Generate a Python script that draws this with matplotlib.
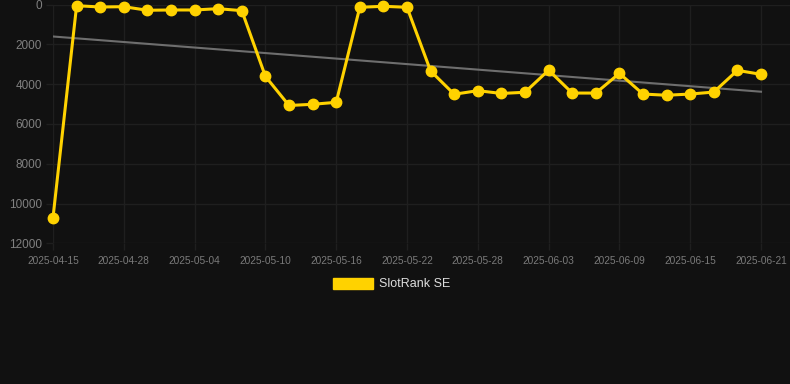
import matplotlib
matplotlib.use("Agg")
import matplotlib.pyplot as plt
from matplotlib.patches import Patch
import numpy as np

plt.rcParams['font.family'] = ['Liberation Sans', 'DejaVu Sans']

dates = ['2025-04-15', '2025-04-24', '2025-04-26', '2025-04-28', '2025-04-30',
         '2025-05-02', '2025-05-04', '2025-05-06', '2025-05-08', '2025-05-10',
         '2025-05-12', '2025-05-14', '2025-05-16', '2025-05-18', '2025-05-20',
         '2025-05-22', '2025-05-24', '2025-05-26', '2025-05-28', '2025-05-30',
         '2025-06-01', '2025-06-03', '2025-06-05', '2025-06-07', '2025-06-09',
         '2025-06-11', '2025-06-13', '2025-06-15', '2025-06-17', '2025-06-19',
         '2025-06-21']
ranks = [10710, 60, 125, 110, 290, 275, 275, 210, 310, 3610,
         5075, 5015, 4915, 140, 90, 140, 3340, 4510, 4330, 4470,
         4410, 3300, 4450, 4450, 3460, 4500, 4560, 4500, 4400, 3310,
         3510]
series_name = 'SlotRank SE'
y_ticks = [0, 2000, 4000, 6000, 8000, 10000, 12000]

W, H = 790, 384
fig = plt.figure(figsize=(W / 100, H / 100), dpi=100)
bg = '#111111'
fig.patch.set_facecolor(bg)

left_px, right_px, top_px, bottom_px = 53, 790, 4.5, 243.3
ax = fig.add_axes([left_px / W, 1 - bottom_px / H,
                   (right_px - left_px) / W, (bottom_px - top_px) / H])
ax.set_facecolor(bg)

x = np.arange(len(dates))
step_px = (761 - 53) / (len(dates) - 1)
ax.set_xlim(0, (right_px - left_px) / step_px)
ax.set_ylim(12000, 0)

grid_c = '#1f1f1f'
ax.set_yticks(y_ticks)
ax.set_yticklabels([str(v) for v in y_ticks])
tick_idx = x[::3]
ax.set_xticks(tick_idx)
ax.set_xticklabels([dates[i] for i in tick_idx])
ax.grid(True, color=grid_c, linewidth=1)
ax.set_axisbelow(True)
for s in ax.spines.values():
    s.set_visible(False)
ax.tick_params(axis='y', colors=grid_c, labelcolor='#808080', labelsize=8.5,
               length=5, width=1, pad=3)
ax.tick_params(axis='x', colors=grid_c, labelcolor='#7a7a7a', labelsize=7.3,
               length=5, width=1, pad=4)

# trend line (linear fit)
coef = np.polyfit(x, ranks, 1)
trend = np.polyval(coef, x)
ax.plot(x[[0, -1]], trend[[0, -1]], color='#6e6e6e', linewidth=1.5, zorder=2)

yellow = '#FFD200'
ax.plot(x, ranks, color=yellow, linewidth=2.2, marker='o', markersize=7.5,
        markerfacecolor=yellow, markeredgecolor=yellow, zorder=3, clip_on=False)

fs = 9
handle = Patch(facecolor=yellow, edgecolor=yellow)
leg = fig.legend([handle], [series_name], loc='center',
                 bbox_to_anchor=(391.5 / W, 1 - 284 / H), frameon=False,
                 fontsize=fs, handlelength=40 / 12.5, handleheight=12 / 12.5,
                 handletextpad=0.5, labelcolor='#dddddd')

fig.savefig('out.png', dpi=100, facecolor=bg)
